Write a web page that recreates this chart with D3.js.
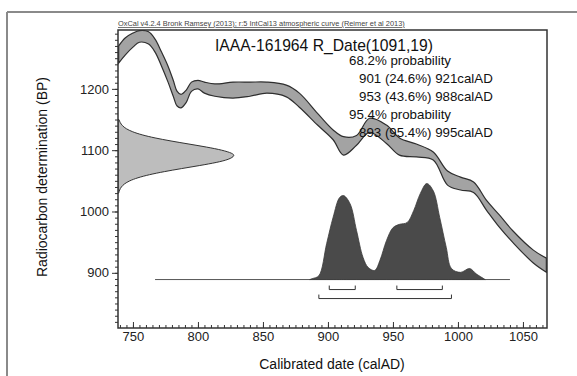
<!DOCTYPE html>
<html>
<head>
<meta charset="utf-8">
<script src="https://cdn.jsdelivr.net/npm/d3@7"></script>
<style>
  html, body { margin: 0; padding: 0; background: #fff; }
  svg { display: block; font-family: "Liberation Sans", Arial, sans-serif; }
</style>
</head>
<body>
<svg id="chart" width="577" height="376"></svg>
<script>
// ---------- data ----------
const headerText = "OxCal v4.2.4 Bronk Ramsey (2013); r:5 IntCal13 atmospheric curve (Reimer et al 2013)";
const titleText = "IAAA-161964 R_Date(1091,19)";
const probLines = [
  { text: "68.2% probability", indent: false },
  { text: "901 (24.6%) 921calAD", indent: true },
  { text: "953 (43.6%) 988calAD", indent: true },
  { text: "95.4% probability", indent: false },
  { text: "893 (95.4%) 995calAD", indent: true }
];
const xLabel = "Calibrated date (calAD)";
const yLabel = "Radiocarbon determination (BP)";
const xTickValues = [750, 800, 850, 900, 950, 1000, 1050];
const yTickValues = [900, 1000, 1100, 1200];

// calibration curve band (IntCal13), upper and lower edges in BP
const calYear = [739, 744, 750, 755, 762, 767, 772, 777, 781, 784, 787, 791, 795, 800, 805, 813, 827, 840, 853, 868, 878, 892, 904, 912, 922, 932, 945, 955, 968, 981, 992, 1002, 1012, 1022, 1032, 1042, 1058, 1068];
const calHigh = [1270, 1283, 1291, 1295, 1293, 1281, 1260, 1237, 1214, 1196, 1191, 1198, 1211, 1214, 1211, 1208, 1211, 1211, 1211, 1206, 1193, 1160, 1133, 1122, 1124, 1152, 1141, 1120, 1110, 1097, 1066, 1056, 1048, 1018, 994, 969, 937, 924];
const calLow  = [1242, 1255, 1268, 1276, 1273, 1260, 1237, 1211, 1188, 1172, 1169, 1178, 1196, 1200, 1193, 1188, 1185, 1188, 1193, 1187, 1170, 1141, 1117, 1092, 1108, 1129, 1111, 1092, 1089, 1084, 1043, 1035, 1031, 1002, 974, 950, 916, 901];

// radiocarbon determination (relative density vs BP)
const rcBP   = [1150, 1145, 1140, 1135, 1130, 1125, 1120, 1115, 1110, 1105, 1100, 1095, 1091, 1085, 1080, 1075, 1070, 1065, 1060, 1055, 1050, 1045, 1040, 1035, 1030];
const rcDens = [0.008, 0.018, 0.036, 0.068, 0.122, 0.202, 0.312, 0.450, 0.607, 0.762, 0.894, 0.978, 1.0, 0.951, 0.846, 0.701, 0.543, 0.392, 0.264, 0.166, 0.097, 0.053, 0.027, 0.013, 0.006];

// calibrated distribution (relative probability vs calAD)
const postYear = [886, 888, 893, 899, 904, 909, 912, 917, 922, 927, 931, 936, 940, 945, 950, 955, 961, 966, 971, 976, 981, 986, 991, 995, 1002, 1009, 1014, 1021];
const postProb = [0, 0.01, 0.04, 0.375, 0.65, 0.855, 0.875, 0.79, 0.51, 0.23, 0.125, 0.095, 0.2, 0.405, 0.54, 0.575, 0.595, 0.72, 0.895, 1.0, 0.925, 0.645, 0.335, 0.115, 0.075, 0.115, 0.06, 0];
const postBaseBP = 889;
const postLineRange = [767, 1040];

// highest posterior density ranges
const range68 = [[901, 921], [953, 988]];
const range95 = [[893, 995]];

// ---------- layout ----------
const svg = d3.select("#chart");
const plot = { left: 118, right: 547, top: 30, bottom: 328 };
const x = d3.scaleLinear().domain([738.5, 1068.5]).range([plot.left, plot.right]);
const y = d3.scaleLinear().domain([810, 1296]).range([plot.bottom, plot.top]);
const dens = d3.scaleLinear().domain([0, 1]).range([plot.left, plot.left + 117]);
const yBase = y(postBaseBP);
const post = d3.scaleLinear().domain([0, 1]).range([yBase, yBase - 96]);

// outer frame
svg.append("line").attr("x1", 7).attr("x2", 577).attr("y1", 12).attr("y2", 12).attr("stroke", "#8a8a8a").attr("stroke-width", 2);
svg.append("line").attr("x1", 7).attr("x2", 7).attr("y1", 12).attr("y2", 376).attr("stroke", "#8a8a8a").attr("stroke-width", 2);

svg.append("clipPath").attr("id", "clip").append("rect")
  .attr("x", plot.left).attr("y", plot.top).attr("width", plot.right - plot.left).attr("height", plot.bottom - plot.top);

const g = svg.append("g").attr("clip-path", "url(#clip)");

// calibration curve band
const calData = calYear.map((yr, i) => ({ yr, hi: calHigh[i], lo: calLow[i] }));
g.append("path").datum(calData)
  .attr("d", d3.area().x(d => x(d.yr)).y0(d => y(d.lo)).y1(d => y(d.hi)).curve(d3.curveCatmullRom))
  .attr("fill", "#a3a3a3").attr("stroke", "#2e2e2e").attr("stroke-width", 1.2);

// radiocarbon determination
const rcData = rcBP.map((bp, i) => ({ bp, d: rcDens[i] }));
g.append("path").datum(rcData)
  .attr("d", d3.area().y(d => y(d.bp)).x0(plot.left).x1(d => dens(d.d)).curve(d3.curveBasis))
  .attr("fill", "#bdbdbd").attr("stroke", "#333").attr("stroke-width", 1);

// baseline of posterior
g.append("line").attr("x1", x(postLineRange[0])).attr("x2", x(postLineRange[1]))
  .attr("y1", yBase).attr("y2", yBase).attr("stroke", "#555").attr("stroke-width", 1);

// posterior distribution
const postData = postYear.map((yr, i) => ({ yr, p: postProb[i] }));
g.append("path").datum(postData)
  .attr("d", d3.area().x(d => x(d.yr)).y0(yBase).y1(d => post(d.p)).curve(d3.curveCatmullRom))
  .attr("fill", "#4a4a4a").attr("stroke", "#3a3a3a").attr("stroke-width", 0.8);

// range brackets
function bracket(r, yy) {
  const p = d3.path();
  p.moveTo(x(r[0]), yy - 4); p.lineTo(x(r[0]), yy); p.lineTo(x(r[1]), yy); p.lineTo(x(r[1]), yy - 4);
  g.append("path").attr("d", p.toString()).attr("fill", "none").attr("stroke", "#333").attr("stroke-width", 1);
}
range68.forEach(r => bracket(r, yBase + 10));
range95.forEach(r => bracket(r, yBase + 19));

// plot frame
svg.append("rect").attr("x", plot.left).attr("y", plot.top)
  .attr("width", plot.right - plot.left).attr("height", plot.bottom - plot.top)
  .attr("fill", "none").attr("stroke", "#333").attr("stroke-width", 1.5);

// x axis
const xMinor = svg.append("g").attr("transform", `translate(0,${plot.bottom})`)
  .call(d3.axisBottom(x).tickValues(d3.range(740, 1070, 5)).tickSize(-3).tickFormat(""));
const xMajor = svg.append("g").attr("transform", `translate(0,${plot.bottom})`)
  .call(d3.axisBottom(x).tickValues(xTickValues).tickSize(-6).tickPadding(4).tickFormat(d3.format("d")));
[xMinor, xMajor].forEach(a => { a.select(".domain").remove(); a.selectAll("line").attr("stroke", "#333"); });
xMajor.selectAll("text").attr("font-size", 13).attr("fill", "#222").attr("font-family", "Liberation Sans, Arial, sans-serif");

// y axis
const yMinor = svg.append("g").attr("transform", `translate(${plot.left},0)`)
  .call(d3.axisLeft(y).tickValues(d3.range(820, 1300, 10)).tickSize(3).tickFormat(""));
const yMajor = svg.append("g").attr("transform", `translate(${plot.left},0)`)
  .call(d3.axisLeft(y).tickValues(yTickValues).tickSize(6).tickPadding(3).tickFormat(d3.format("d")));
[yMinor, yMajor].forEach(a => { a.select(".domain").remove(); a.selectAll("line").attr("stroke", "#333"); });
yMajor.selectAll("text").attr("font-size", 13).attr("fill", "#222").attr("font-family", "Liberation Sans, Arial, sans-serif");

// header
svg.append("text").attr("x", plot.left).attr("y", 26).attr("font-size", 7.4).attr("fill", "#444")
  .attr("text-decoration", "underline").text(headerText);

// title
svg.append("text").attr("x", 324).attr("y", 51).attr("text-anchor", "middle")
  .attr("font-size", 15.7).attr("fill", "#111").text(titleText);

// probability text
svg.append("g").selectAll("text").data(probLines).join("text")
  .attr("x", d => d.indent ? 359 : 349)
  .attr("y", (d, i) => 65 + i * 18)
  .attr("font-size", 13.3).attr("fill", "#111")
  .text(d => d.text);

// axis labels
svg.append("text").attr("x", 332).attr("y", 369).attr("text-anchor", "middle")
  .attr("font-size", 14).attr("fill", "#111").text(xLabel);
svg.append("text").attr("transform", "translate(47,177) rotate(-90)").attr("text-anchor", "middle")
  .attr("font-size", 14).attr("fill", "#111").text(yLabel);
</script>
</body>
</html>
